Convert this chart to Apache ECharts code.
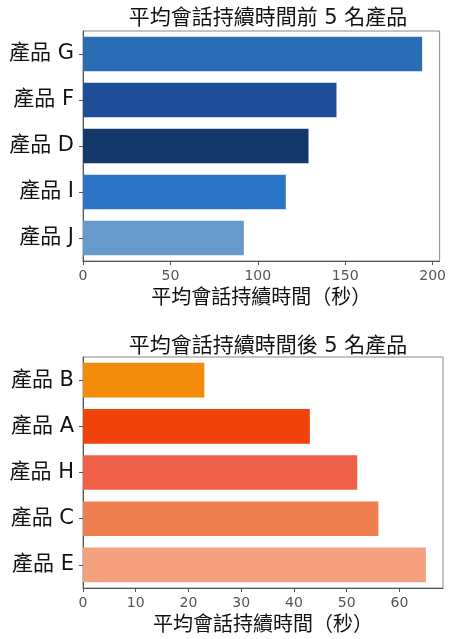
<!DOCTYPE html>
<html><head><meta charset="utf-8">
<script src="https://cdn.jsdelivr.net/npm/echarts@6/dist/echarts.min.js"></script>
<style>html,body{margin:0;padding:0;background:#fff;}#c{width:449px;height:639px;}</style>
</head><body><div id="c"></div>
<script>
const topCategories = ['產品 G', '產品 F', '產品 D', '產品 I', '產品 J'];
const topValues = [194, 145, 129, 116, 92];
const topColors = ['#2a6db5', '#1f4e99', '#15386b', '#2b74c6', '#6699cc'];
const topTicks = [0, 50, 100, 150, 200];

const bottomCategories = ['產品 B', '產品 A', '產品 H', '產品 C', '產品 E'];
const bottomValues = [23, 43, 52, 56, 65];
const bottomColors = ['#f28c0a', '#f04209', '#f06048', '#f07f50', '#f4a07e'];
const bottomTicks = [0, 10, 20, 30, 40, 50, 60];

const titles = ['平均會話持續時間前 5 名產品', '平均會話持續時間後 5 名產品'];
const axisName = '平均會話持續時間（秒）';

const FONT = '"DejaVu Sans", "Noto Sans CJK TC", sans-serif';
const chart = echarts.init(document.getElementById('c'), null, {renderer: 'canvas'});

function xAxisCfg(gridIndex, max, ticks) {
  return {
    type: 'value', gridIndex, min: 0, max,
    name: axisName, nameLocation: 'middle', nameGap: 28,
    nameTextStyle: {fontSize: 20, color: '#111', fontFamily: FONT},
    axisLine: {show: true, lineStyle: {color: '#555', width: 1}},
    axisTick: {show: true, length: 4, lineStyle: {color: '#555'}, customValues: ticks},
    axisLabel: {fontSize: 14, color: '#555', margin: 8, fontFamily: FONT, customValues: ticks},
    splitLine: {show: false}
  };
}
function yAxisCfg(gridIndex, cats) {
  return {
    type: 'category', gridIndex, data: cats, inverse: true,
    axisLine: {show: true, lineStyle: {color: '#555', width: 1}},
    axisTick: {show: true, length: 4, alignWithLabel: true, lineStyle: {color: '#555'}},
    axisLabel: {fontSize: 21, color: '#111', margin: 9, fontFamily: FONT}
  };
}

chart.setOption({
  animation: false,
  backgroundColor: '#fff',
  title: [
    {text: titles[0], left: 263, top: 3, textAlign: 'center',
     textStyle: {fontSize: 21, fontWeight: 'normal', color: '#111', fontFamily: FONT}},
    {text: titles[1], left: 263, top: 331, textAlign: 'center',
     textStyle: {fontSize: 21, fontWeight: 'normal', color: '#111', fontFamily: FONT}}
  ],
  grid: [
    {left: 83, top: 31, width: 360, height: 230, show: true, borderColor: '#888', borderWidth: 1, backgroundColor: 'transparent'},
    {left: 83, top: 357, width: 360, height: 231, show: true, borderColor: '#888', borderWidth: 1, backgroundColor: 'transparent'}
  ],
  xAxis: [xAxisCfg(0, 204, topTicks), xAxisCfg(1, 68.25, bottomTicks)],
  yAxis: [yAxisCfg(0, topCategories), yAxisCfg(1, bottomCategories)],
  series: [
    {type: 'bar', xAxisIndex: 0, yAxisIndex: 0, barWidth: '75%',
     data: topValues.map((v, i) => ({value: v, itemStyle: {color: topColors[i]}}))},
    {type: 'bar', xAxisIndex: 1, yAxisIndex: 1, barWidth: '75%',
     data: bottomValues.map((v, i) => ({value: v, itemStyle: {color: bottomColors[i]}}))}
  ]
});
</script>
</body></html>
